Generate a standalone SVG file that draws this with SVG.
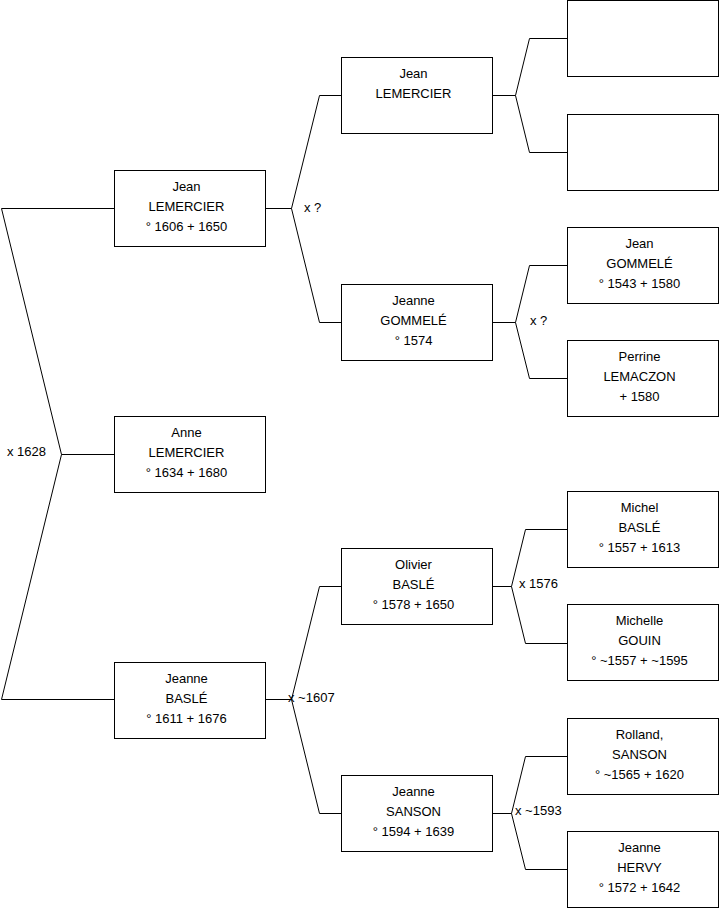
<svg xmlns="http://www.w3.org/2000/svg" width="719" height="908" viewBox="0 0 719 908">
<style>
.b{fill:#fff;stroke:#000;stroke-width:1}
.c{fill:none;stroke:#000;stroke-width:1}
text{font-family:"Liberation Sans",Arial,sans-serif;font-size:13px;fill:#000}
.m{text-anchor:middle}
</style>
<rect width="719" height="908" fill="#fff"/>
<g id="connectors">
<polyline class="c" points="114.5,208.5 1.5,208.5 61.5,454.5 1.5,699.5 114.5,699.5"/>
<line class="c" x1="61.5" y1="454.5" x2="114.5" y2="454.5"/>
<text x="7" y="456">x 1628</text>
<line class="c" x1="265" y1="208.5" x2="291.5" y2="208.5"/>
<polyline class="c" points="341,95.5 319.5,95.5 291.5,208.5 319.5,322.5 341,322.5"/>
<text x="304" y="212">x ?</text>
<line class="c" x1="265" y1="699.5" x2="291.5" y2="699.5"/>
<polyline class="c" points="341,586.5 319.5,586.5 291.5,699.5 319.5,813.5 341,813.5"/>
<text x="288" y="702">x ~1607</text>
<line class="c" x1="492" y1="95.5" x2="515.5" y2="95.5"/>
<polyline class="c" points="567,38.5 529.5,38.5 515.5,95.5 529.5,152.5 567,152.5"/>
<line class="c" x1="492" y1="322.5" x2="515.5" y2="322.5"/>
<polyline class="c" points="567,265.5 529.5,265.5 515.5,322.5 529.5,378.5 567,378.5"/>
<text x="530" y="325">x ?</text>
<line class="c" x1="492" y1="586.5" x2="511.5" y2="586.5"/>
<polyline class="c" points="567,529.5 525.5,529.5 511.5,586.5 525.5,643.5 567,643.5"/>
<text x="519" y="588">x 1576</text>
<line class="c" x1="492" y1="813.5" x2="511.5" y2="813.5"/>
<polyline class="c" points="567,756.5 525.5,756.5 511.5,813.5 525.5,869.5 567,869.5"/>
<text x="515" y="815">x ~1593</text>
</g>
<g id="n1"><rect class="b" x="114.5" y="170.5" width="151" height="76"/><text class="m" x="186.5" y="191">Jean</text><text class="m" x="186.5" y="211">LEMERCIER</text><text class="m" x="186.5" y="231">° 1606 + 1650</text></g>
<g id="n2"><rect class="b" x="114.5" y="416.5" width="151" height="76"/><text class="m" x="186.5" y="437">Anne</text><text class="m" x="186.5" y="457">LEMERCIER</text><text class="m" x="186.5" y="477">° 1634 + 1680</text></g>
<g id="n3"><rect class="b" x="114.5" y="662.5" width="151" height="76"/><text class="m" x="186.5" y="683">Jeanne</text><text class="m" x="186.5" y="703">BASLÉ</text><text class="m" x="186.5" y="723">° 1611 + 1676</text></g>
<g id="n4"><rect class="b" x="341.5" y="57.5" width="151" height="76"/><text class="m" x="413.5" y="78">Jean</text><text class="m" x="413.5" y="98">LEMERCIER</text></g>
<g id="n5"><rect class="b" x="341.5" y="284.5" width="151" height="76"/><text class="m" x="413.5" y="305">Jeanne</text><text class="m" x="413.5" y="325">GOMMELÉ</text><text class="m" x="413.5" y="345">° 1574</text></g>
<g id="n6"><rect class="b" x="341.5" y="548.5" width="151" height="76"/><text class="m" x="413.5" y="569">Olivier</text><text class="m" x="413.5" y="589">BASLÉ</text><text class="m" x="413.5" y="609">° 1578 + 1650</text></g>
<g id="n7"><rect class="b" x="341.5" y="775.5" width="151" height="76"/><text class="m" x="413.5" y="796">Jeanne</text><text class="m" x="413.5" y="816">SANSON</text><text class="m" x="413.5" y="836">° 1594 + 1639</text></g>
<g id="n8"><rect class="b" x="567.5" y="0.5" width="151" height="76"/></g>
<g id="n9"><rect class="b" x="567.5" y="114.5" width="151" height="76"/></g>
<g id="n10"><rect class="b" x="567.5" y="227.5" width="151" height="76"/><text class="m" x="639.5" y="248">Jean</text><text class="m" x="639.5" y="268">GOMMELÉ</text><text class="m" x="639.5" y="288">° 1543 + 1580</text></g>
<g id="n11"><rect class="b" x="567.5" y="340.5" width="151" height="76"/><text class="m" x="639.5" y="361">Perrine</text><text class="m" x="639.5" y="381">LEMACZON</text><text class="m" x="639.5" y="401">+ 1580</text></g>
<g id="n12"><rect class="b" x="567.5" y="491.5" width="151" height="76"/><text class="m" x="639.5" y="512">Michel</text><text class="m" x="639.5" y="532">BASLÉ</text><text class="m" x="639.5" y="552">° 1557 + 1613</text></g>
<g id="n13"><rect class="b" x="567.5" y="604.5" width="151" height="76"/><text class="m" x="639.5" y="625">Michelle</text><text class="m" x="639.5" y="645">GOUIN</text><text class="m" x="639.5" y="665">° ~1557 + ~1595</text></g>
<g id="n14"><rect class="b" x="567.5" y="718.5" width="151" height="76"/><text class="m" x="639.5" y="739">Rolland,</text><text class="m" x="639.5" y="759">SANSON</text><text class="m" x="639.5" y="779">° ~1565 + 1620</text></g>
<g id="n15"><rect class="b" x="567.5" y="831.5" width="151" height="76"/><text class="m" x="639.5" y="852">Jeanne</text><text class="m" x="639.5" y="872">HERVY</text><text class="m" x="639.5" y="892">° 1572 + 1642</text></g>
</svg>
